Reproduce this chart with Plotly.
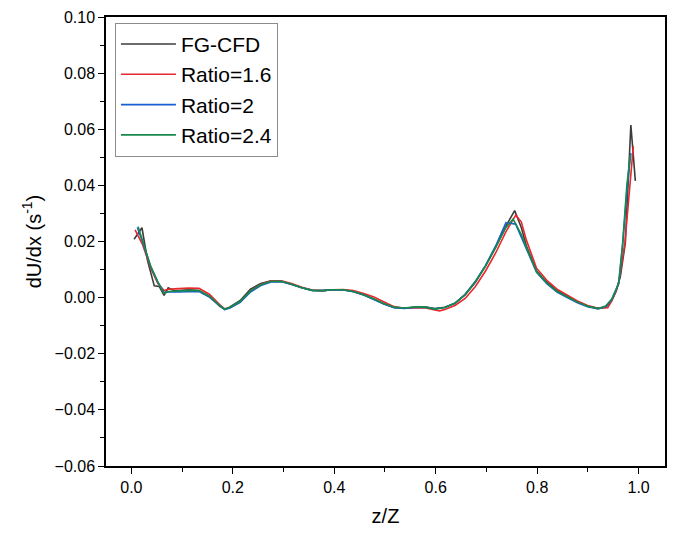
import plotly.graph_objects as go

# FG-CFD (black)
z_cfd = [0.0054, 0.0209, 0.0321, 0.0452, 0.0549, 0.0645, 0.0726, 0.0828, 0.0929, 0.1132, 0.1334,
         0.1537, 0.1740, 0.1841, 0.1943, 0.2146, 0.2348, 0.2551, 0.2754, 0.2957, 0.3159, 0.3362,
         0.3565, 0.3768, 0.3971, 0.4173, 0.4376, 0.4579, 0.4782, 0.4975, 0.5177, 0.5380, 0.5580,
         0.5780, 0.5981, 0.6178, 0.6379, 0.6580, 0.6782, 0.6982, 0.7184, 0.7385, 0.7556, 0.7687,
         0.7787, 0.7988, 0.8190, 0.8391, 0.8592, 0.8793, 0.8994, 0.9195, 0.9351, 0.9470, 0.9550,
         0.9639, 0.9738, 0.9788, 0.9818, 0.9847, 0.9935]
y_cfd = [0.0208, 0.0249, 0.0130, 0.0042, 0.0040, 0.0008, 0.0035, 0.0026, 0.0025, 0.0028, 0.0025,
         0.0004, -0.0030, -0.0042, -0.0033, -0.0010, 0.0030, 0.0050, 0.0060, 0.0058, 0.0048,
         0.0035, 0.0026, 0.0025, 0.0028, 0.0028, 0.0022, 0.0010, -0.0006, -0.0022, -0.0035,
         -0.0038, -0.0034, -0.0033, -0.0039, -0.0034, -0.0020, 0.0010, 0.0055, 0.0112, 0.0180,
         0.0255, 0.0310, 0.0250, 0.0185, 0.0095, 0.0055, 0.0025, 0.0005, -0.0015, -0.0030,
         -0.0038, -0.0034, -0.0010, 0.0020, 0.0074, 0.0195, 0.0400, 0.0490, 0.0615, 0.0416]

# Ratio = 1.6 (red)
z_r16 = [0.0073, 0.0219, 0.0381, 0.0523, 0.0645, 0.0726, 0.0929, 0.1132, 0.1334, 0.1537, 0.1740,
         0.1841, 0.1943, 0.2146, 0.2348, 0.2551, 0.2754, 0.2957, 0.3159, 0.3362, 0.3565, 0.3768,
         0.3971, 0.4173, 0.4376, 0.4579, 0.4782, 0.4975, 0.5177, 0.5380, 0.5580, 0.5780, 0.5981,
         0.6077, 0.6178, 0.6379, 0.6580, 0.6782, 0.6982, 0.7184, 0.7385, 0.7577, 0.7687, 0.7787,
         0.7988, 0.8190, 0.8391, 0.8592, 0.8793, 0.8994, 0.9195, 0.9391, 0.9470, 0.9570, 0.9629,
         0.9729, 0.9837, 0.9896]
y_r16 = [0.0241, 0.0190, 0.0105, 0.0050, 0.0025, 0.0030, 0.0032, 0.0034, 0.0033, 0.0012, -0.0025,
         -0.0040, -0.0036, -0.0014, 0.0024, 0.0047, 0.0060, 0.0060, 0.0050, 0.0037, 0.0027,
         0.0025, 0.0028, 0.0029, 0.0025, 0.0015, 0.0002, -0.0016, -0.0032, -0.0038, -0.0036,
         -0.0036, -0.0044, -0.0047, -0.0042, -0.0028, -0.0003, 0.0040, 0.0095, 0.0160, 0.0235,
         0.0294, 0.0270, 0.0205, 0.0105, 0.0062, 0.0030, 0.0008, -0.0012, -0.0028, -0.0038,
         -0.0036, -0.0012, 0.0030, 0.0074, 0.0195, 0.0400, 0.0540]

# Ratio = 2 (blue)
z_r20 = [0.0118, 0.0219, 0.0381, 0.0523, 0.0645, 0.0726, 0.0929, 0.1132, 0.1334, 0.1537, 0.1740,
         0.1841, 0.1943, 0.2146, 0.2348, 0.2551, 0.2754, 0.2957, 0.3159, 0.3362, 0.3565, 0.3768,
         0.3971, 0.4173, 0.4376, 0.4579, 0.4782, 0.4975, 0.5177, 0.5380, 0.5580, 0.5780, 0.5981,
         0.6178, 0.6379, 0.6580, 0.6782, 0.6982, 0.7184, 0.7385, 0.7577, 0.7687, 0.7787, 0.7988,
         0.8190, 0.8391, 0.8592, 0.8793, 0.8994, 0.9202, 0.9351, 0.9470, 0.9609, 0.9689, 0.9778,
         0.9847]
y_r20 = [0.0250, 0.0200, 0.0110, 0.0055, 0.0018, 0.0020, 0.0020, 0.0022, 0.0022, 0.0002, -0.0030,
         -0.0043, -0.0037, -0.0017, 0.0020, 0.0043, 0.0056, 0.0057, 0.0047, 0.0035, 0.0026,
         0.0025, 0.0028, 0.0027, 0.0021, 0.0009, -0.0007, -0.0023, -0.0036, -0.0039, -0.0035,
         -0.0034, -0.0040, -0.0035, -0.0020, 0.0012, 0.0058, 0.0115, 0.0185, 0.0267, 0.0262,
         0.0215, 0.0175, 0.0090, 0.0050, 0.0020, 0.0000, -0.0018, -0.0032, -0.0040, -0.0032,
         -0.0008, 0.0050, 0.0195, 0.0400, 0.0515]

# Ratio = 2.4 (green)
z_r24 = [0.0133, 0.0219, 0.0381, 0.0523, 0.0645, 0.0726, 0.0929, 0.1132, 0.1334, 0.1537, 0.1740,
         0.1841, 0.1943, 0.2146, 0.2348, 0.2551, 0.2754, 0.2957, 0.3159, 0.3362, 0.3565, 0.3768,
         0.3971, 0.4173, 0.4376, 0.4579, 0.4782, 0.4975, 0.5177, 0.5380, 0.5580, 0.5780, 0.5981,
         0.6178, 0.6379, 0.6580, 0.6782, 0.6982, 0.7184, 0.7385, 0.7526, 0.7687, 0.7787, 0.7988,
         0.8190, 0.8391, 0.8592, 0.8793, 0.8994, 0.9202, 0.9351, 0.9470, 0.9606, 0.9686, 0.9768,
         0.9837]
y_r24 = [0.0253, 0.0205, 0.0112, 0.0055, 0.0015, 0.0022, 0.0024, 0.0026, 0.0025, 0.0005, -0.0028,
         -0.0041, -0.0034, -0.0013, 0.0024, 0.0046, 0.0058, 0.0058, 0.0048, 0.0035, 0.0026,
         0.0025, 0.0028, 0.0028, 0.0022, 0.0010, -0.0005, -0.0021, -0.0034, -0.0037, -0.0034,
         -0.0033, -0.0041, -0.0035, -0.0020, 0.0011, 0.0057, 0.0113, 0.0180, 0.0250, 0.0280,
         0.0225, 0.0180, 0.0092, 0.0052, 0.0022, 0.0003, -0.0016, -0.0031, -0.0039, -0.0030,
         -0.0005, 0.0051, 0.0195, 0.0400, 0.0510]

series = [
    ("FG-CFD", z_cfd, y_cfd, "#3c3c3c"),
    ("Ratio=1.6", z_r16, y_r16, "#e8282c"),
    ("Ratio=2", z_r20, y_r20, "#1a5fd0"),
    ("Ratio=2.4", z_r24, y_r24, "#178a4a"),
]

x_ticks = [0.0, 0.2, 0.4, 0.6, 0.8, 1.0]
x_tick_text = ["0.0", "0.2", "0.4", "0.6", "0.8", "1.0"]
y_ticks = [-0.06, -0.04, -0.02, 0.00, 0.02, 0.04, 0.06, 0.08, 0.10]
y_tick_text = ["\u22120.06", "\u22120.04", "\u22120.02", "0.00", "0.02", "0.04", "0.06", "0.08", "0.10"]

FONT = "Liberation Sans, Arial, sans-serif"

fig = go.Figure()
for name, zs, ys, col in series:
    fig.add_trace(go.Scatter(x=zs, y=ys, mode="lines", name=name,
                             line=dict(color=col, width=1.6)))

axis_common = dict(
    showline=True, linecolor="black", linewidth=1.5, mirror=True,
    ticks="outside", ticklen=6, tickwidth=1.3, tickcolor="black",
    showgrid=False, zeroline=False,
    tickfont=dict(family=FONT, size=16, color="black"),
)

fig.update_layout(
    width=673, height=535,
    margin=dict(l=106, r=6, t=17, b=69),
    paper_bgcolor="white", plot_bgcolor="white",
    font=dict(family=FONT, color="black"),
    showlegend=True,
    legend=dict(x=0.016, y=0.987, xanchor="left", yanchor="top",
                bordercolor="#8c8c8c", borderwidth=1, bgcolor="white",
                font=dict(family=FONT, size=21, color="black"),
                itemwidth=55, tracegroupgap=0),
    xaxis=dict(range=[-0.05, 1.052], tickvals=x_ticks, ticktext=x_tick_text,
               minor=dict(dtick=0.1, tick0=0, ticks="outside", ticklen=4, tickcolor="black", tickwidth=1.2),
               title=dict(text="z/Z", font=dict(family=FONT, size=20), standoff=14),
               **axis_common),
    yaxis=dict(range=[-0.06, 0.10], tickvals=y_ticks, ticktext=y_tick_text,
               minor=dict(dtick=0.01, tick0=0, ticks="outside", ticklen=4, tickcolor="black", tickwidth=1.2),
               title=dict(text="dU/dx (s<sup>-1</sup>)", font=dict(family=FONT, size=20), standoff=8),
               **axis_common),
)

fig.write_html("out.html")
